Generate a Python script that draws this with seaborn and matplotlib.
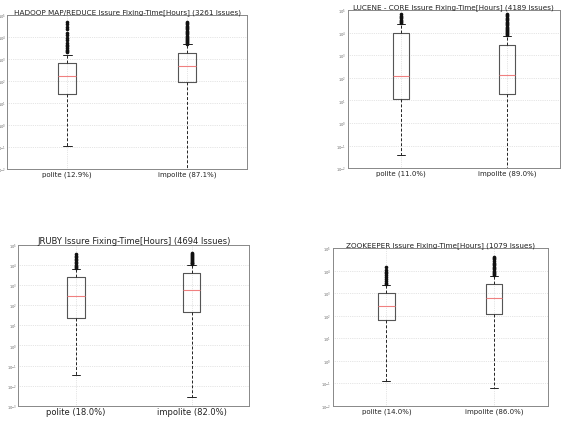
"""
Issue fixing time boxplots (polite vs impolite) for four projects
"""

import numpy as np
import matplotlib
matplotlib.use("Agg")
import matplotlib.pyplot as plt
import seaborn as sns

# project info
projects = ["HADOOP MAP/REDUCE", "LUCENE - CORE", "JRUBY", "ZOOKEEPER"]
issue_counts = [3261, 4189, 4694, 1079]
polite_pct = [12.9, 11.0, 18.0, 14.0]
impolite_pct = [87.1, 89.0, 82.0, 86.0]
y_bottom = [1e-2, 1e-2, 1e-3, 1e-2]
y_top = [1e5, 1e5, 1e5, 1e5]

# box stats in hours: [polite, impolite]
whis_lo = [[0.11, 0.0095], [0.039, 0.0095], [0.032, 0.0028], [0.12, 0.059]]
q1 = [[25, 90], [11.7, 18.6], [23, 45], [63, 123]]
median = [[170, 480], [117, 138], [290, 575], [280, 590]]
q3 = [[680, 1850], [9500, 2750], [2630, 4200], [1000, 2500]]
whis_hi = [[1600, 4800], [24000, 6900], [6300, 10000], [2350, 6000]]

fliers = [
    [[2000, 2300, 2700, 3200, 3800, 4500, 5500, 7000, 9000, 12000, 16000, 22000, 30000, 40000, 47000],
     [5000, 5500, 6000, 6600, 7300, 8000, 9000, 10000, 11500, 13000, 15000, 17000, 19500, 22000,
      25000, 29000, 33000, 38000, 44000, 50000]],
    [[26000, 29000, 33000, 38000, 43000, 50000, 57000, 66000],
     [7500, 8300, 9200, 10200, 11500, 13000, 14500, 16500, 18500, 21000, 24000, 27000, 31000,
      35000, 40000, 46000, 53000, 60000, 66000]],
    [[7000, 8000, 9000, 10500, 12000, 14000, 17000, 20000, 24000, 28000, 35000],
     [11000, 12000, 13000, 14500, 16000, 18000, 20000, 22500, 25000, 28000, 31000, 35000, 39000]],
    [[2600, 3000, 3600, 4300, 5200, 6300, 7600, 9000, 11000, 14000],
     [6500, 7200, 8000, 9000, 10000, 11500, 13000, 15000, 17500, 20000, 23000, 27000, 32000,
      37000, 43000]],
]

# axes rectangles in pixels: left, right, top, bottom
W, H = 564, 431
rects = [(7.3, 247, 16, 170), (347.7, 560, 11, 169.3),
         (18.3, 249.3, 246, 406.7), (332.7, 547.7, 249.3, 406.7)]
title_sizes = [5.2, 5.2, 6.0, 5.2]
xtick_sizes = [5.0, 5.0, 6.0, 5.0]

sns.set_style("white")
plt.rcParams["font.family"] = ["DejaVu Sans"]

fig = plt.figure(figsize=(W / 100, H / 100), dpi=100)

for i, name in enumerate(projects):
    l, r, t, b = rects[i]
    ax = fig.add_axes([l / W, 1 - b / H, (r - l) / W, (b - t) / H])

    stats = []
    for j, lab in enumerate(["polite", "impolite"]):
        stats.append({
            "whislo": whis_lo[i][j], "q1": q1[i][j], "med": median[i][j],
            "q3": q3[i][j], "whishi": whis_hi[i][j], "fliers": fliers[i][j],
        })

    ax.bxp(stats, positions=[1, 2], widths=0.15, showfliers=True,
           boxprops=dict(color="#555555", linewidth=0.8),
           medianprops=dict(color="#f08080", linewidth=0.8),
           whiskerprops=dict(color="#222222", linewidth=0.7, linestyle=(0, (3, 2))),
           capprops=dict(color="#222222", linewidth=0.7),
           flierprops=dict(marker="o", markersize=1.6, markerfacecolor="#111111",
                           markeredgecolor="#111111", linestyle="none"))

    ax.set_yscale("log")
    ax.set_ylim(y_bottom[i], y_top[i])
    ax.set_xlim(0.5, 2.5)
    ax.set_xticks([1, 2])
    ax.set_xticklabels([f"polite ({polite_pct[i]:.1f}%)",
                        f"impolite ({impolite_pct[i]:.1f}%)"],
                       fontsize=xtick_sizes[i], color="#222222")
    ax.yaxis.set_major_locator(matplotlib.ticker.LogLocator(base=10, numticks=20))
    ax.yaxis.set_minor_locator(matplotlib.ticker.NullLocator())
    ax.tick_params(axis="y", labelsize=2.6, labelcolor="#666666", length=0, pad=1)
    ax.tick_params(axis="x", length=0, pad=1)
    ax.grid(True, color="#cccccc", linestyle=":", linewidth=0.5)
    for s in ax.spines.values():
        s.set_color("#888888")
        s.set_linewidth(0.7)
    ax.set_title(f"{name} Issure Fixing-Time[Hours] ({issue_counts[i]} Issues)",
                 fontsize=title_sizes[i], color="#222222", pad=1.5)

fig.savefig("out.png", dpi=100)
